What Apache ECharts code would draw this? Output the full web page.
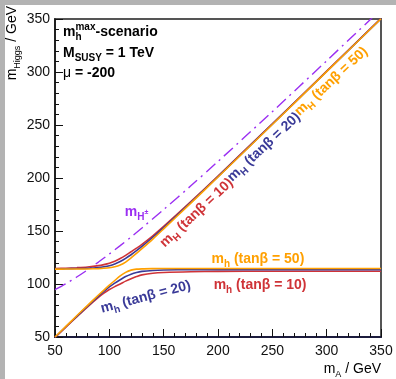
<!DOCTYPE html>
<html><head><meta charset="utf-8">
<script src="https://cdn.jsdelivr.net/npm/echarts@6/dist/echarts.min.js"></script>
<style>html,body{margin:0;padding:0;background:#fff}#c{width:396px;height:379px}</style>
</head><body><div id="c"></div>
<script>
// m_A grid (GeV)
const mA = [50,60,70,80,90,95,100,105,110,115,120,125,130,140,150,175,200,250,300,350];
// light CP-even Higgs m_h
const mh_tb10 = [49.5,59.3,69,78.5,87.4,91.3,94.8,97.5,100,102.7,105,107,108.6,110.2,110.9,111.6,111.9,112,112,112];
const mh_tb20 = [49.8,59.7,69.5,79.2,88.6,93,97.2,100.8,104,107,109.3,110.9,111.9,112.8,113.2,113.5,113.6,113.6,113.6,113.6];
const mh_tb50 = [50,60,70,79.9,89.6,94.3,98.9,103.3,107.6,111,113.1,114,114.3,114.5,114.6,114.6,114.6,114.6,114.6,114.6];
// heavy CP-even Higgs m_H
const mH_tb10 = [114.5,114.9,115.4,116.1,117.3,118.3,119.6,121.5,124,127,130.4,133.8,137.4,145.5,154.3,177.7,201.8,251.2,300.8,350.6];
const mH_tb20 = [114.2,114.4,114.6,114.9,115.6,116.3,117.3,118.9,121.2,124.2,127.6,131.4,135.4,144.1,153.2,177,201.3,250.8,300.5,350.4];
const mH_tb50 = [114,114.1,114.1,114.2,114.5,114.8,115.3,116.2,117.9,120.7,124.6,128.9,133.3,142.4,152,176.3,200.9,250.5,300.3,350.2];
// charged Higgs
const mA_c = [50,60,70,80,90,100,110,120,130,150,175,200,250,300,350];
const mHpm = [94.7,100.3,106.6,113.4,120.7,128.3,136.2,144.4,152.9,170.2,192.6,215.6,262.6,310.6,359];
const xTicks = [50,100,150,200,250,300,350];
const yTicks = [50,100,150,200,250,300,350];

const RED = '#cf3337', BLUE = '#3a3a98', ORANGE = '#ffa000', PURPLE = '#9b2ff2';
const FONT = '"Liberation Sans", Arial, Helvetica, sans-serif';

function pairs(xs, ys){ return xs.map((x,i)=>[x, ys[i]]); }
function line(name, xs, ys, color, w, type){
  return {name, type:'line', data:pairs(xs,ys), showSymbol:false, smooth:0.3,
    clip:true, lineStyle:{color, width:w, type:type||'solid'}, silent:true, animation:false, z:3};
}

const chart = echarts.init(document.getElementById('c'), null, {renderer:'canvas'});
const axisCommon = {
  min:50, max:350, interval:50,
  axisLine:{show:true, onZero:false},
  axisTick:{show:true, inside:true, length:8, lineStyle:{color:'#111', width:1}},
  minorTick:{show:true, splitNumber:5, length:4, lineStyle:{color:'#111', width:1}},
  splitLine:{show:false},
  axisLabel:{color:'#111', fontFamily:FONT, fontSize:14}
};
chart.setOption({
  animation:false,
  backgroundColor:'#fff',
  grid:{left:55, right:15, top:19, bottom:42, show:true, borderColor:'#555', borderWidth:2, backgroundColor:'transparent'},
  xAxis:Object.assign({}, axisCommon, {type:'value',
    axisLine:{show:true, onZero:false, lineStyle:{color:'#1c1c3e', width:2}},
    axisLabel:Object.assign({}, axisCommon.axisLabel, {margin:7,
      formatter:v=> xTicks.includes(v)? String(v):''})}),
  yAxis:Object.assign({}, axisCommon, {type:'value',
    axisLine:{show:true, onZero:false, lineStyle:{color:'#111', width:1.5}},
    axisLabel:Object.assign({}, axisCommon.axisLabel, {margin:5,
      formatter:v=> yTicks.includes(v)? String(v):''})}),
  series:[
    line('mHpm', mA_c, mHpm, PURPLE, 1.4, [12,5,2,5]),
    line('mh10', mA, mh_tb10, RED, 1.6),
    line('mH10', mA, mH_tb10, RED, 1.6),
    line('mh20', mA, mh_tb20, BLUE, 1.6),
    line('mH20', mA, mH_tb20, BLUE, 1.6),
    line('mh50', mA, mh_tb50, ORANGE, 1.6),
    line('mH50', mA, mH_tb50, ORANGE, 1.6)
  ]
});

function P(x,y){ return chart.convertToPixel({gridIndex:0}, [x,y]); }
function richStyle(color, size){
  const sm = Math.round(size*0.68);
  return {
    m:{fontSize:size, fontWeight:'bold', fontFamily:FONT, color, lineHeight:size+6},
    s:{fontSize:sm, fontWeight:'bold', fontFamily:FONT, color, verticalAlign:'bottom', lineHeight:sm},
    u:{fontSize:sm, fontWeight:'bold', fontFamily:FONT, color, verticalAlign:'top', lineHeight:sm},
    sz:{fontSize:sm, fontWeight:'bold', fontFamily:FONT, color, verticalAlign:'bottom', lineHeight:sm, width:0},
    t:{fontSize:7, fontWeight:'bold', fontFamily:FONT, color, verticalAlign:'middle', lineHeight:7},
    n:{fontSize:size, fontWeight:'normal', fontFamily:FONT, color, lineHeight:size+6}
  };
}
function label(text, color, dx, dy, rotDeg, align){
  const p = P(dx, dy);
  return {type:'text', x:p[0], y:p[1], rotation:(rotDeg||0)*Math.PI/180, z:10, silent:true,
    style:{text, rich:richStyle(color,14), align:align||'center', verticalAlign:'middle', fill:color}};
}
// label placed alongside the diagonal, offset perpendicular (down-right)
function diagLabel(text, color, along, off){
  const p = P(along, along);
  const th = 43*Math.PI/180;
  return {type:'text', x:p[0]+Math.sin(th)*off, y:p[1]+Math.cos(th)*off, rotation:th, z:10, silent:true,
    style:{text, rich:richStyle(color,14), align:'center', verticalAlign:'middle', fill:color}};
}
const tb = (v)=>'{m|(tanβ = '+v+')}';
const g = [
  {type:'rect', shape:{x:0,y:0,width:396,height:5}, style:{fill:'#b3b3b3'}, z:20, silent:true},
  {type:'rect', shape:{x:0,y:0,width:5,height:379}, style:{fill:'#b3b3b3'}, z:20, silent:true},
  // info block
  {type:'text', x:63, y:32, z:10, silent:true, style:{text:'{m|m}{sz|h}{u|max}{m|-scenario}', rich:richStyle('#111',14), align:'left', verticalAlign:'middle'}},
  {type:'text', x:63, y:53, z:10, silent:true, style:{text:'{m|M}{s|SUSY}{m| = 1 TeV}', rich:richStyle('#111',14), align:'left', verticalAlign:'middle'}},
  {type:'text', x:63, y:73, z:10, silent:true, style:{text:'{n|μ}{m| = -200}', rich:richStyle('#111',14), align:'left', verticalAlign:'middle'}},
  // axis titles
  {type:'text', x:381, y:369, z:10, silent:true, style:{text:'{n|m}{ns|A}{n| / GeV}', rich:{
    n:{fontSize:14, fontFamily:FONT, color:'#111', lineHeight:20},
    ns:{fontSize:9, fontFamily:FONT, color:'#111', verticalAlign:'bottom', lineHeight:9}}, align:'right', verticalAlign:'middle'}},
  {type:'text', x:12, y:6, rotation:Math.PI/2, z:25, silent:true, style:{text:'{n|m}{ns|Higgs}{n| / GeV}', rich:{
    n:{fontSize:14, fontFamily:FONT, color:'#111', lineHeight:20},
    ns:{fontSize:9, fontFamily:FONT, color:'#111', verticalAlign:'bottom', lineHeight:9}}, align:'right', verticalAlign:'middle'}},
  // curve labels
  label('{m|m}{s|H}{t|±}', PURPLE, 125, 168, 0),
  diagLabel('{m|m}{s|H}{m| }'+tb(10), RED, 174, 10),
  diagLabel('{m|m}{s|H}{m| }'+tb(20), BLUE, 236, 10),
  diagLabel('{m|m}{s|H}{m| }'+tb(50), ORANGE, 298, 10),
  label('{m|m}{s|h}{m| }'+tb(50), ORANGE, 194, 123.6, 0, 'left'),
  label('{m|m}{s|h}{m| }'+tb(10), RED, 196, 99, 0, 'left'),
  label('{m|m}{s|h}{m| }'+tb(20), BLUE, 133.5, 87.7, 15)
];
chart.setOption({graphic:g});
</script></body></html>
